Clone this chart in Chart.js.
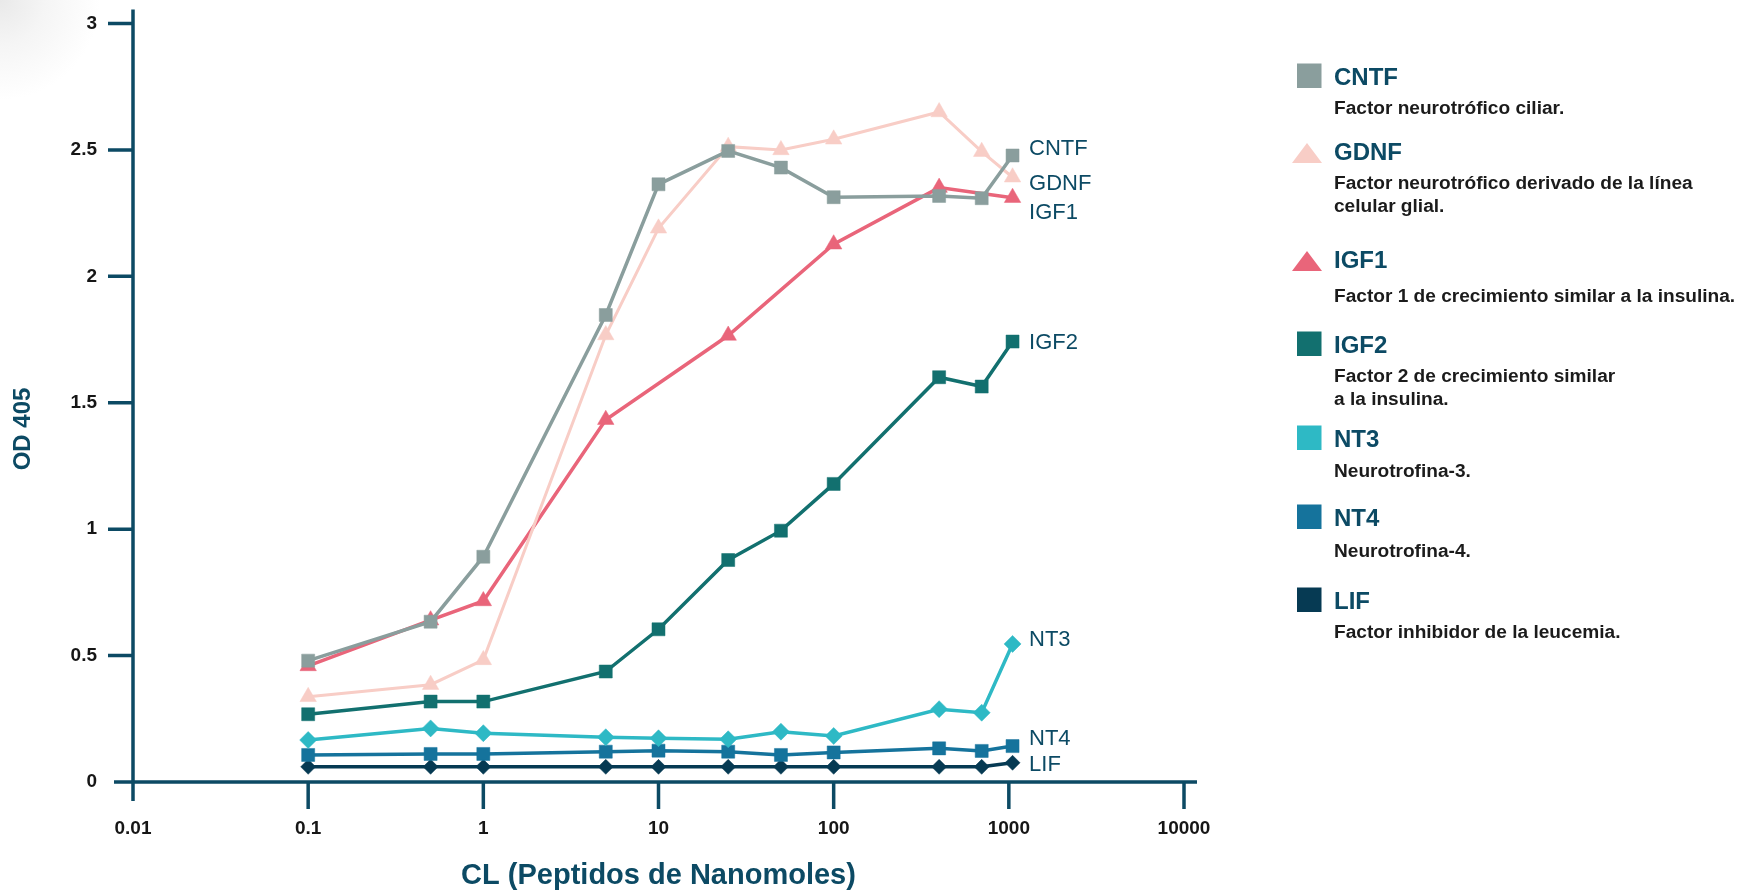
<!DOCTYPE html>
<html>
<head>
<meta charset="utf-8">
<script src="https://cdn.jsdelivr.net/npm/chart.js@4.4.1/dist/chart.umd.min.js"></script>
<style>
  html, body { margin: 0; padding: 0; width: 1741px; height: 893px; overflow: hidden; }
  body { background: radial-gradient(circle at 0 0, #e9e9e9 0px, #f5f5f5 45px, #ffffff 100px); }
  canvas { display: block; }
</style>
</head>
<body>
<canvas id="c" width="1741" height="893"></canvas>
<script>
// ---------- data ----------
const conc      = [0.1, 0.5, 1, 5, 10, 25, 50, 100, 400, 700, 1050];
const concIGF1  = [0.1, 0.5, 1, 5, 25, 100, 400, 1050];
const cntf = [0.48, 0.634, 0.891, 1.847, 2.364, 2.496, 2.43, 2.313, 2.318, 2.309, 2.478];
const gdnf = [0.337, 0.385, 0.483, 1.768, 2.19, 2.513, 2.50, 2.542, 2.65, 2.493, 2.392];
const igf1 = [0.459, 0.64, 0.716, 1.433, 1.766, 2.127, 2.351, 2.311];
const igf2 = [0.268, 0.318, 0.318, 0.437, 0.604, 0.878, 0.994, 1.179, 1.601, 1.564, 1.742];
const nt3  = [0.166, 0.212, 0.193, 0.177, 0.173, 0.169, 0.199, 0.182, 0.288, 0.274, 0.546];
const nt4  = [0.107, 0.111, 0.111, 0.12, 0.124, 0.12, 0.107, 0.117, 0.133, 0.123, 0.142];
const lif  = [0.06, 0.06, 0.06, 0.06, 0.06, 0.06, 0.06, 0.06, 0.06, 0.06, 0.076];

const xTicks = [0.01, 0.1, 1, 10, 100, 1000, 10000];
const xTickLabels = ['0.01', '0.1', '1', '10', '100', '1000', '10000'];
const yTicks = [0, 0.5, 1, 1.5, 2, 2.5, 3];
const yTickLabels = ['0', '0.5', '1', '1.5', '2', '2.5', '3'];

const seriesNames = ['CNTF', 'GDNF', 'IGF1', 'IGF2', 'NT3', 'NT4', 'LIF'];
const seriesDescriptions = [
  ['Factor neurotrófico ciliar.'],
  ['Factor neurotrófico derivado de la línea', 'celular glial.'],
  ['Factor 1 de crecimiento similar a la insulina.'],
  ['Factor 2 de crecimiento similar', 'a la insulina.'],
  ['Neurotrofina-3.'],
  ['Neurotrofina-4.'],
  ['Factor inhibidor de la leucemia.']
];
const xTitle = 'CL (Peptidos de Nanomoles)';
const yTitle = 'OD 405';

// ---------- styles ----------
const FONT = '"Liberation Sans", Arial, Helvetica, sans-serif';
const NAVY = '#0c4a64';
const colors = ['#8a9e9d', '#f8cdc6', '#e9657a', '#12706f', '#2eb9c5', '#15739c', '#063a53'];
const shapes = ['rect', 'triangle', 'triangle', 'rect', 'rectRot', 'rect', 'rectRot'];
const radii  = [9.2, 9.5, 9.5, 9.2, 8.5, 9.2, 7.5];
const lineWidths = [3.5, 3, 3.5, 3.5, 3.5, 3.5, 3.5];
// direct label anchors (vertical centre, in data units)
const labelAnchorY = [2.506, 2.37, 2.253, 1.742, 0.567, 0.176, 0.072];
// legend title baselines (px)
const legendTitleBaselines = [85, 160, 268, 353, 447, 526, 609];
const legendDescFirstOffset = [29, 29, 34, 29, 30, 31, 29];

const values = [cntf, gdnf, igf1, igf2, nt3, nt4, lif];
const xs = [conc, conc, concIGF1, conc, conc, conc, conc];

const datasets = seriesNames.map((name, i) => ({
  label: name,
  data: values[i].map((v, j) => ({ x: xs[i][j], y: v })),
  borderColor: colors[i],
  backgroundColor: colors[i],
  pointBackgroundColor: colors[i],
  pointBorderColor: colors[i],
  pointBorderWidth: 0.5,
  pointStyle: shapes[i],
  pointRadius: radii[i],
  borderWidth: lineWidths[i],
  tension: 0,
  fill: false
}));

const decor = {
  id: 'decor',
  beforeDatasetsDraw(chart) {
    const { ctx } = chart;
    const x = chart.scales.x, y = chart.scales.y;
    const L = x.getPixelForValue(xTicks[0]);
    const R = x.getPixelForValue(xTicks[xTicks.length - 1]);
    const B = y.getPixelForValue(yTicks[0]);
    const T = y.getPixelForValue(yTicks[yTicks.length - 1]);
    ctx.save();
    ctx.strokeStyle = NAVY;
    ctx.lineWidth = 3.5;
    ctx.beginPath();
    ctx.moveTo(L, T - 14); ctx.lineTo(L, B + 19);
    ctx.moveTo(L - 19, B); ctx.lineTo(R + 13, B);
    yTicks.slice(1).forEach(v => { const p = y.getPixelForValue(v); ctx.moveTo(L - 25, p); ctx.lineTo(L, p); });
    xTicks.slice(1).forEach(v => { const p = x.getPixelForValue(v); ctx.moveTo(p, B); ctx.lineTo(p, B + 27); });
    ctx.stroke();
    ctx.restore();
  },
  afterDraw(chart) {
    const { ctx } = chart;
    const x = chart.scales.x, y = chart.scales.y;
    ctx.save();
    // y title
    ctx.fillStyle = NAVY;
    ctx.font = 'bold 24px ' + FONT;
    ctx.textAlign = 'center';
    ctx.textBaseline = 'middle';
    ctx.translate(23.5, 429);
    ctx.rotate(-Math.PI / 2);
    ctx.fillText(yTitle, 0, 0);
    ctx.setTransform(1, 0, 0, 1, 0, 0);

    // direct labels at line ends
    ctx.font = '22px ' + FONT;
    ctx.textAlign = 'left';
    ctx.textBaseline = 'middle';
    ctx.fillStyle = NAVY;
    seriesNames.forEach((n, i) => {
      const lastX = xs[i][xs[i].length - 1];
      const px = x.getPixelForValue(lastX) + 16.5;
      const py = y.getPixelForValue(labelAnchorY[i]) + 1;
      ctx.fillText(n, px, py);
    });

    // legend
    const mx = 1297, tx = 1334;
    seriesNames.forEach((n, i) => {
      const b = legendTitleBaselines[i];
      ctx.fillStyle = colors[i];
      if (shapes[i] === 'triangle') {
        ctx.beginPath();
        ctx.moveTo(mx - 5, b + 3);
        ctx.lineTo(mx + 25, b + 3);
        ctx.lineTo(mx + 10, b - 17);
        ctx.closePath();
        ctx.fill();
      } else {
        ctx.fillRect(mx, b - 21.5, 24.5, 24.5);
      }
      ctx.fillStyle = NAVY;
      ctx.font = 'bold 24px ' + FONT;
      ctx.textBaseline = 'alphabetic';
      ctx.fillText(n, tx, b);
      ctx.fillStyle = '#1b1b1b';
      ctx.font = 'bold 19.1px ' + FONT;
      seriesDescriptions[i].forEach((line, k) => {
        ctx.fillText(line, tx, b + legendDescFirstOffset[i] + k * 23);
      });
    });
    ctx.restore();
  }
};

new Chart(document.getElementById('c'), {
  type: 'line',
  data: { datasets },
  plugins: [decor],
  options: {
    responsive: false,
    animation: false,
    devicePixelRatio: 1,
    layout: { padding: { left: 0, top: 23.5, right: 557, bottom: 0 } },
    plugins: { legend: { display: false }, tooltip: { enabled: false } },
    scales: {
      x: {
        type: 'logarithmic',
        min: xTicks[0],
        max: xTicks[xTicks.length - 1],
        afterBuildTicks: s => { s.ticks = xTicks.map(v => ({ value: v })); },
        afterFit: s => { s.height = 111; },
        ticks: {
          autoSkip: false, maxRotation: 0,
          padding: 8,
          color: '#161616',
          font: { family: FONT, size: 19, weight: 'bold' },
          callback: (v, i) => xTickLabels[i]
        },
        grid: { display: true, drawOnChartArea: false, drawTicks: true, tickLength: 27, color: 'rgba(0,0,0,0)' },
        border: { display: false },
        title: {
          display: true, text: xTitle, color: NAVY,
          font: { family: FONT, size: 29, weight: 'bold', lineHeight: 1.2 },
          padding: { top: 0, bottom: 0 }
        }
      },
      y: {
        type: 'linear',
        min: yTicks[0],
        max: yTicks[yTicks.length - 1],
        afterBuildTicks: s => { s.ticks = yTicks.map(v => ({ value: v })); },
        afterFit: s => { s.width = 133; },
        ticks: {
          padding: 11,
          color: '#161616',
          font: { family: FONT, size: 19, weight: 'bold' },
          callback: (v, i) => yTickLabels[i]
        },
        grid: { display: true, drawOnChartArea: false, drawTicks: true, tickLength: 25, color: 'rgba(0,0,0,0)' },
        border: { display: false }
      }
    }
  }
});
</script>
</body>
</html>
